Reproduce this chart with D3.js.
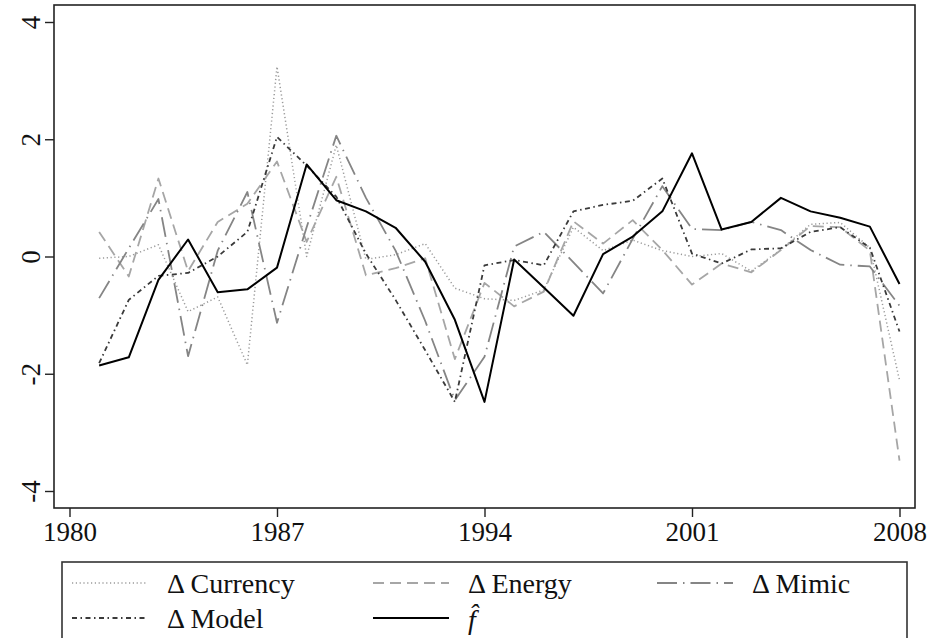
<!DOCTYPE html>
<html>
<head>
<meta charset="utf-8">
<script src="https://cdn.jsdelivr.net/npm/d3@7/dist/d3.min.js"></script>
<style>
  body { margin: 0; background: #fff; }
  svg { display: block; }
</style>
</head>
<body>
<div id="chart"></div>
<script>
// Données (1981-2008)
const years = [1981, 1982, 1983, 1984, 1985, 1986, 1987, 1988, 1989, 1990, 1991, 1992, 1993, 1994,
               1995, 1996, 1997, 1998, 1999, 2000, 2001, 2002, 2003, 2004, 2005, 2006, 2007, 2008];

const currency = [-0.03, 0.0, 0.2, -0.94, -0.69, -1.85, 3.24, 0.0, 1.9, -0.05, 0.03, 0.22, -0.54, -0.72,
                  -0.75, -0.57, 0.5, 0.1, 0.28, 0.1, 0.0, 0.05, -0.25, 0.12, 0.55, 0.58, 0.15, -2.11];
const energy = [0.42, -0.34, 1.33, -0.25, 0.59, 0.9, 1.62, 0.25, 1.36, -0.32, -0.2, -0.03, -1.75, -0.45,
                -0.85, -0.6, 0.6, 0.22, 0.62, 0.11, -0.48, -0.12, -0.27, 0.11, 0.52, 0.5, 0.1, -3.48];
const mimic = [-0.71, 0.14, 0.98, -1.7, 0.1, 1.1, -1.13, 0.5, 2.06, 1.0, 0.1, -1.1, -2.45, -1.71,
               0.17, 0.42, -0.1, -0.63, 0.3, 1.2, 0.47, 0.45, 0.59, 0.45, 0.11, -0.14, -0.17, -0.84];
const model = [-1.82, -0.74, -0.33, -0.28, 0.0, 0.42, 2.04, 1.55, 1.02, 0.05, -0.74, -1.6, -2.48, -0.15,
               -0.06, -0.15, 0.77, 0.88, 0.95, 1.33, 0.05, -0.12, 0.12, 0.14, 0.42, 0.5, 0.15, -1.28];
const fhat = [-1.86, -1.72, -0.40, 0.29, -0.61, -0.56, -0.19, 1.57, 0.96, 0.77, 0.49, -0.09, -1.08, -2.48,
              -0.05, -0.53, -1.01, 0.04, 0.34, 0.77, 1.76, 0.46, 0.59, 1.0, 0.77, 0.66, 0.51, -0.47];

const xTicks = [1980, 1987, 1994, 2001, 2008];
const yTicks = [-4, -2, 0, 2, 4];

const seriesNames = ["Δ Currency", "Δ Energy", "Δ Mimic", "Δ Model", "f\u0302"];
const seriesValues = [currency, energy, mimic, model, fhat];

// styles des traits (gris, pointillés...)
const styles = [
    { color: "#9a9a9a", dash: "1.2,2.6", width: 1.5 },
    { color: "#a6a6a6", dash: "11,6", width: 1.8 },
    { color: "#858585", dash: "20,6,1.5,6", width: 1.8 },
    { color: "#3a3a3a", dash: "5,3.5,1.5,3.5", width: 1.8 },
    { color: "#000000", dash: null, width: 2 }
];

const FONT = "'Liberation Serif', 'Times New Roman', serif";
const width = 934;
const height = 638;
const frame = { left: 54, right: 915, top: 5, bottom: 508 };

const svg = d3.select("#chart").append("svg")
    .attr("width", width)
    .attr("height", height)
    .attr("font-family", FONT);

const x = d3.scaleLinear().domain([1980, 2008]).range([69.5, 899.5]);
const y = d3.scaleLinear().domain([-4, 4]).range([491, 22]);

// cadre du graphique
svg.append("rect")
    .attr("x", frame.left)
    .attr("y", frame.top)
    .attr("width", frame.right - frame.left)
    .attr("height", frame.bottom - frame.top)
    .attr("fill", "none")
    .attr("stroke", "#222")
    .attr("stroke-width", 1.6);

const xAxis = svg.append("g")
    .attr("transform", `translate(0,${frame.bottom})`)
    .call(d3.axisBottom(x).tickValues(xTicks).tickSize(9).tickPadding(5).tickFormat(d => String(d)))
    .attr("font-family", FONT);
xAxis.select(".domain").remove();
xAxis.selectAll("line").attr("stroke", "#222").attr("stroke-width", 1.4);
xAxis.selectAll("text")
    .attr("font-size", 27)
    .attr("fill", "#111");

const yAxis = svg.append("g")
    .attr("transform", `translate(${frame.left},0)`)
    .call(d3.axisLeft(y).tickValues(yTicks).tickSize(9).tickFormat(d => String(d)))
    .attr("font-family", FONT);
yAxis.select(".domain").remove();
yAxis.selectAll("line").attr("stroke", "#222").attr("stroke-width", 1.4);
yAxis.selectAll("text")
    .attr("font-size", 27)
    .attr("fill", "#111")
    .attr("text-anchor", "middle")
    .attr("x", null)
    .attr("dy", null)
    .attr("transform", "translate(-14,0) rotate(-90)");

const line = d3.line()
    .x((d, i) => x(years[i]))
    .y(d => y(d));

svg.append("g")
    .attr("class", "series")
    .selectAll("path")
    .data(seriesValues)
    .join("path")
    .attr("d", d => line(d))
    .attr("fill", "none")
    .attr("stroke", (d, i) => styles[i].color)
    .attr("stroke-width", (d, i) => styles[i].width)
    .attr("stroke-dasharray", (d, i) => styles[i].dash)
    .attr("stroke-linejoin", "round");

// légende en bas
const legend = svg.append("g").attr("class", "legend");
legend.append("rect")
    .attr("x", 62)
    .attr("y", 562)
    .attr("width", 845)
    .attr("height", 100)
    .attr("fill", "none")
    .attr("stroke", "#333")
    .attr("stroke-width", 1.6);

const colX = [72, 373, 657];
const rowY = [583, 618];

const item = legend.selectAll("g.item")
    .data(seriesNames)
    .join("g")
    .attr("class", "item")
    .attr("transform", (d, i) => `translate(${colX[i % 3]},${rowY[Math.floor(i / 3)]})`);

item.append("line")
    .attr("x1", 0)
    .attr("x2", 76)
    .attr("stroke", (d, i) => styles[i].color)
    .attr("stroke-width", (d, i) => styles[i].width)
    .attr("stroke-dasharray", (d, i) => styles[i].dash);

item.append("text")
    .attr("x", 95)
    .attr("y", (d, i) => i === 4 ? 11 : 10)
    .attr("font-size", 28)
    .attr("fill", "#111")
    .attr("font-style", (d, i) => i === 4 ? "italic" : null)
    .text(d => d);

console.log("chart drawn", seriesValues.length);
</script>
</body>
</html>
